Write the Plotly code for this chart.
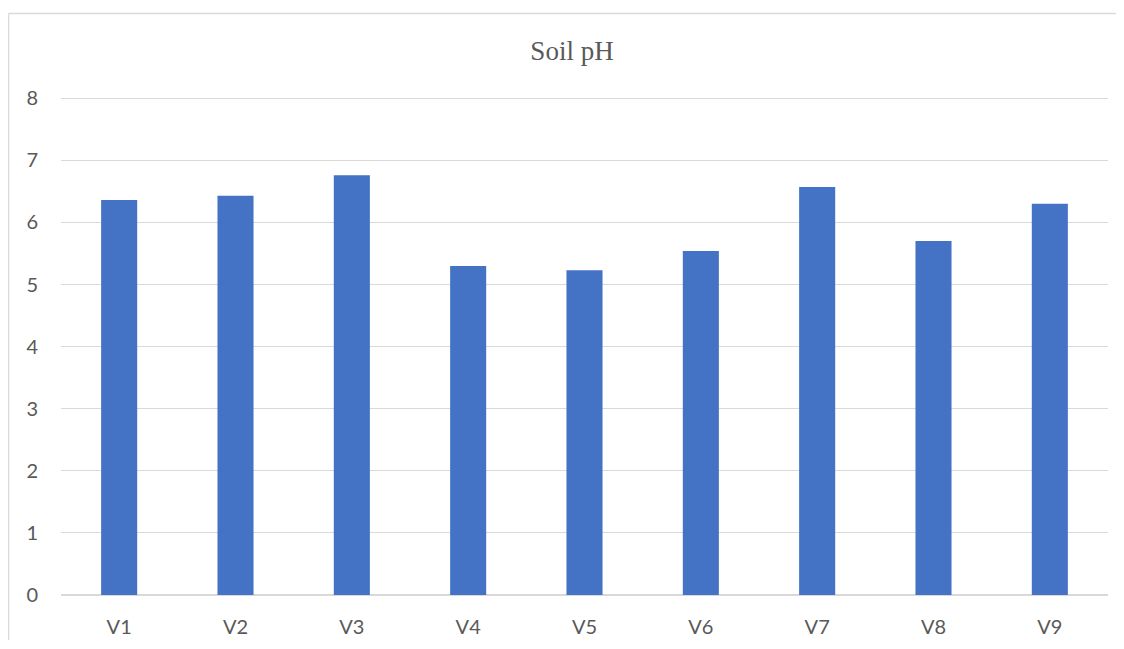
import plotly.graph_objects as go

categories = ["V1", "V2", "V3", "V4", "V5", "V6", "V7", "V8", "V9"]
ph_values = [6.36, 6.43, 6.76, 5.30, 5.23, 5.54, 6.57, 5.70, 6.30]
y_ticks = [0, 1, 2, 3, 4, 5, 6, 7, 8]

fig = go.Figure()
fig.add_trace(go.Bar(x=categories, y=ph_values, marker=dict(color="#4472C4", line=dict(width=0)),
                     hoverinfo="x+y"))

# page is offset by the 8px body margin
W, H = 1116, 632
L, R, T, B = 53, 16, 89, 45
pw, ph = W - L - R, H - T - B

border = dict(color="#D9D9D9", width=1.5)
fig.update_layout(
    width=W, height=H,
    margin=dict(l=L, r=R, t=T, b=B, pad=0, autoexpand=False),
    paper_bgcolor="white", plot_bgcolor="white",
    bargap=0.69,
    showlegend=False,
    title=dict(text="Soil pH", x=564 / W, xanchor="center", y=1 - 43 / H, yanchor="middle",
               font=dict(family="Liberation Serif, Times New Roman, serif", size=27, color="#595959")),
    xaxis=dict(showgrid=False, showline=False, zeroline=False, ticks="", automargin=False,
               tickfont=dict(family="Lato, Open Sans, sans-serif", size=20, color="#595959"),
               ticklabelstandoff=18),
    yaxis=dict(range=[0, 8.02], tickvals=y_ticks, showgrid=True, gridcolor="#D9D9D9", gridwidth=1,
               zeroline=True, zerolinecolor="#D9D9D9", zerolinewidth=1.5, showline=False, ticks="",
               automargin=False,
               tickfont=dict(family="Lato, Open Sans, sans-serif", size=20, color="#595959"),
               ticklabelstandoff=22),
    shapes=[
        dict(type="line", xref="paper", yref="paper",
             x0=(0.5 - L) / pw, x1=(W - L) / pw,
             y0=1 + (T - 5.5) / ph, y1=1 + (T - 5.5) / ph, line=border, layer="below"),
        dict(type="line", xref="paper", yref="paper",
             x0=(0.5 - L) / pw, x1=(0.5 - L) / pw,
             y0=-(B + 5) / ph, y1=1 + (T - 5.5) / ph, line=border, layer="below"),
    ],
)

fig.write_html("out.html")
